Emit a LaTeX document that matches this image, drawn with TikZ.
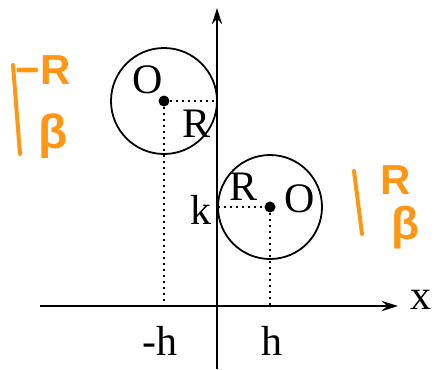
\documentclass[tikz,border=0pt]{standalone}
\usepackage{fontspec}
\setmainfont{Liberation Serif}
\newfontfamily\handfont{Liberation Sans}
\usetikzlibrary{arrows.meta}
\definecolor{hand}{RGB}{255,150,20}
\tikzset{
  axis/.style={line width=2.8pt,-{Stealth[length=16pt,width=10pt]}},
  circ/.style={line width=1.8pt},
  guide/.style={line width=1.4pt,dash pattern=on 2pt off 4pt},
  lbl/.style={font=\fontsize{42}{46}\selectfont,inner sep=0pt},
  ink/.style={hand,line width=4pt,line cap=round},
  handlbl/.style={hand,font=\handfont\bfseries\fontsize{42}{46}\selectfont,inner sep=0pt},
  dot/.style={circle,fill=black,inner sep=0pt,minimum size=11pt}
}
\begin{document}
\begin{tikzpicture}[x=1pt,y=-1pt]
\useasboundingbox (0,0) rectangle (435,369);
% axes
\coordinate (xs) at (40,306);
\coordinate (xe) at (398,306);
\coordinate (ys) at (217,369);
\coordinate (ye) at (217,8);
\draw[axis] (xs) -- (xe);
\draw[axis] (ys) -- (ye);
\node[lbl] (xl) at (421,300) {x};
% circle 1
\node[dot] (c1) at (164,101) {};
\draw[circ] (c1.center) circle[radius=53];
\coordinate (t1) at (217,101);
\coordinate (f1) at (164,306);
\draw[guide] (c1) -- (t1);
\draw[guide] (c1) -- (f1);
\node[lbl] (o1) at (148,80) {O};
\node[lbl] (r1) at (197,124) {R};
\node[lbl] (mh) at (160,341) {-h};
% circle 2
\node[dot] (c2) at (270,207) {};
\draw[circ] (c2.center) circle[radius=52];
\coordinate (t2) at (218,207);
\coordinate (f2) at (270,306);
\draw[guide] (t2) -- (c2);
\draw[guide] (c2) -- (f2);
\node[lbl] (o2) at (300,199) {O};
\node[lbl] (r2) at (244,187) {R};
\node[lbl] (kl) at (201,210) {k};
\node[lbl] (ph) at (272,341) {h};
% orange handwriting, left
\coordinate (la) at (13,65);
\coordinate (lb) at (20,154);
\draw[ink] (la) -- (lb);
\node[handlbl] (lr) at (43,70) {−R};
\node[handlbl,font=\handfont\bfseries\fontsize{48}{52}\selectfont] (lbt) at (53,136) {β};
% orange handwriting, right
\coordinate (ra) at (354,171);
\coordinate (rb) at (362,234);
\draw[ink] (ra) -- (rb);
\node[handlbl] (rr) at (396,180) {R};
\node[handlbl,font=\handfont\bfseries\fontsize{46}{50}\selectfont] (rbt) at (406,228) {β};
\end{tikzpicture}
\end{document}
